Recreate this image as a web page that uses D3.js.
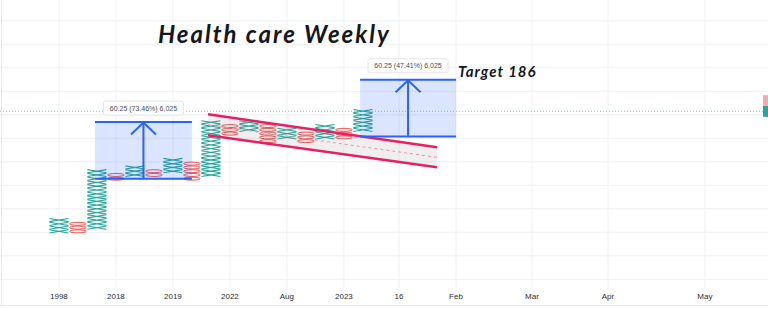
<!DOCTYPE html>
<html>
<head>
<meta charset="utf-8">
<script src="https://cdn.jsdelivr.net/npm/d3@7"></script>
<style>
body { margin: 0; background: #fff; }
svg { display: block; }
</style>
</head>
<body>
<svg id="chart"></svg>
<script>
// point & figure columns (price of lowest box, price of top of column)
const colTypes = ["X", "O", "X", "O", "X", "O", "X", "O", "X", "O", "X", "O", "X", "O", "X", "O", "X"];
const colLows  = [24, 24, 28, 80, 84, 84, 88, 80, 84, 128, 132, 120, 124, 120, 124, 124, 132];
const colHighs = [40, 36, 92, 88, 96, 92, 104, 100, 144, 140, 144, 140, 136, 132, 140, 136, 156];
const boxSize = 4;

// time axis
const timeTicks = [0, 3, 6, 9, 12, 15, 17.9, 20.9, 24.9, 28.9, 34];
const timeLabels = ["1998", "2018", "2019", "2022", "Aug", "2023", "16", "Feb", "Mar", "Apr", "May"];
const priceTicks = [-25, 0, 25, 50, 75, 100, 125, 150, 175, 200, 225, 250];

// price range measurements
const measureFrom = [1.9, 15.85];
const measureTo = [7.0, 20.9];
const measureLow = [82, 127];
const measureHigh = [142.25, 187.25];
const measureLabels = ["60.25 (73.46%) 6,025", "60.25 (47.41%) 6,025"];

// descending channel
const channelIdx = [7.85, 19.9];
const channelUpper = [150.5, 115.4];
const channelLower = [128.2, 94.1];

const lastPrice = 153.7;
const prevLabelPrice = 165;

const width = 768, height = 309;
const svg = d3.select('#chart').attr('width', width).attr('height', height);

const x = d3.scaleLinear().domain([-3.1, 37.32]).range([0, width]);
const y = d3.scaleLinear().domain([75, 150]).range([185.3, 114.8]);
const boxH = y(0) - y(boxSize);

// grid
svg.append('g').selectAll('line.h')
    .data(priceTicks)
    .enter().append('line')
    .attr('x1', 0).attr('x2', width)
    .attr('y1', d => y(d)).attr('y2', d => y(d))
    .attr('stroke', '#eef0f4').attr('stroke-width', 1);

svg.append('g').selectAll('line.v')
    .data(timeTicks)
    .enter().append('line')
    .attr('x1', d => x(d)).attr('x2', d => x(d))
    .attr('y1', 0).attr('y2', 288)
    .attr('stroke', '#eef0f4').attr('stroke-width', 1);

// frame
svg.append('line').attr('x1', 1.5).attr('x2', 1.5).attr('y1', 0).attr('y2', 305)
    .attr('stroke', '#e6e9ef');
svg.append('line').attr('x1', 0).attr('x2', width).attr('y1', 305.5).attr('y2', 305.5)
    .attr('stroke', '#e6e9ef');

// time labels
svg.append('g').selectAll('text')
    .data(timeTicks)
    .enter().append('text')
    .attr('x', d => x(d))
    .attr('y', 299)
    .attr('text-anchor', 'middle')
    .attr('font-family', 'Liberation Sans, Arial, sans-serif')
    .attr('font-size', 8)
    .attr('fill', '#2a2e39')
    .text((d, i) => timeLabels[i]);

// last price line
svg.append('line')
    .attr('x1', 0).attr('x2', width)
    .attr('y1', y(lastPrice)).attr('y2', y(lastPrice))
    .attr('stroke', '#26a69a').attr('stroke-opacity', 0.55)
    .attr('stroke-dasharray', '1,2');

// boxes
const boxes = [];
colTypes.forEach(function(t, i) {
    for (let p = colLows[i]; p < colHighs[i]; p += boxSize) {
        boxes.push({col: i, type: t, price: p});
    }
});

const marks = svg.append('g');
marks.selectAll('path.x')
    .data(boxes.filter(d => d.type === 'X'))
    .enter().append('path')
    .attr('d', function(d) {
        const cx = x(d.col), y0 = y(d.price) - 0.3, y1 = y(d.price + boxSize) + 0.3;
        return 'M' + (cx - 9.5) + ',' + y1 + 'L' + (cx + 9.5) + ',' + y0 +
            'M' + (cx - 9.5) + ',' + y0 + 'L' + (cx + 9.5) + ',' + y1;
    })
    .attr('fill', 'none')
    .attr('stroke', '#26a69a')
    .attr('stroke-width', 1.1);

marks.selectAll('ellipse')
    .data(boxes.filter(d => d.type === 'O'))
    .enter().append('ellipse')
    .attr('cx', d => x(d.col))
    .attr('cy', d => y(d.price + boxSize / 2))
    .attr('rx', 8.3)
    .attr('ry', boxH / 2 - 0.4)
    .attr('fill', 'none')
    .attr('stroke', '#ef5350')
    .attr('stroke-width', 1);

// channel
const chan = svg.append('g');
chan.append('path')
    .attr('d', 'M' + x(channelIdx[0]) + ',' + y(channelUpper[0]) +
        'L' + x(channelIdx[1]) + ',' + y(channelUpper[1]) +
        'L' + x(channelIdx[1]) + ',' + y(channelLower[1]) +
        'L' + x(channelIdx[0]) + ',' + y(channelLower[0]) + 'Z')
    .attr('fill', 'rgba(120,123,134,0.12)');
chan.append('line')
    .attr('x1', x(channelIdx[0])).attr('x2', x(channelIdx[1]))
    .attr('y1', y((channelUpper[0] + channelLower[0]) / 2))
    .attr('y2', y((channelUpper[1] + channelLower[1]) / 2))
    .attr('stroke', '#f48fb1').attr('stroke-width', 1).attr('stroke-dasharray', '3,3');
[channelUpper, channelLower].forEach(function(line) {
    chan.append('line')
        .attr('x1', x(channelIdx[0])).attr('x2', x(channelIdx[1]))
        .attr('y1', y(line[0])).attr('y2', y(line[1]))
        .attr('stroke', '#e91e63').attr('stroke-width', 2.5);
});

// measurements
measureFrom.forEach(function(f, i) {
    const g = svg.append('g');
    const x0 = x(f), x1 = x(measureTo[i]);
    const yl = y(measureLow[i]), yh = y(measureHigh[i]);
    const xm = (x0 + x1) / 2;
    g.append('rect')
        .attr('x', x0).attr('y', yh)
        .attr('width', x1 - x0).attr('height', yl - yh)
        .attr('fill', 'rgba(41,98,255,0.17)');
    [yl, yh].forEach(function(yy) {
        g.append('line').attr('x1', x0).attr('x2', x1).attr('y1', yy).attr('y2', yy)
            .attr('stroke', '#2962ff').attr('stroke-width', 2);
    });
    g.append('line').attr('x1', xm).attr('x2', xm).attr('y1', yl).attr('y2', yh)
        .attr('stroke', '#2962ff').attr('stroke-width', 2);
    g.append('path')
        .attr('d', 'M' + (xm - 12.5) + ',' + (yh + 12.5) + 'L' + xm + ',' + (yh + 0.5) + 'L' + (xm + 12.5) + ',' + (yh + 12.5))
        .attr('fill', 'none').attr('stroke', '#2962ff').attr('stroke-width', 2);
    g.append('rect')
        .attr('x', xm - 40).attr('y', yh - 21)
        .attr('width', 80).attr('height', 14).attr('rx', 2)
        .attr('fill', '#fff').attr('stroke', '#e3e5ea');
    g.append('text')
        .attr('x', xm).attr('y', yh - 11.5)
        .attr('text-anchor', 'middle')
        .attr('font-family', 'Liberation Sans, Arial, sans-serif')
        .attr('font-size', 7)
        .attr('fill', '#4a4e58')
        .text(measureLabels[i]);
});

// price scale labels, cut off at right edge
svg.append('rect').attr('x', 763).attr('y', y(prevLabelPrice) - 5.5)
    .attr('width', 6).attr('height', 10.5).attr('fill', '#f7a8ae');
svg.append('rect').attr('x', 763).attr('y', y(lastPrice) - 5.5)
    .attr('width', 6).attr('height', 11).attr('fill', '#26a69a');

// annotations
svg.append('text')
    .attr('x', 158).attr('y', 43)
    .attr('font-family', 'Lato, sans-serif')
    .attr('font-style', 'italic').attr('font-weight', 'bold')
    .attr('font-size', 24)
    .attr('letter-spacing', 2)
    .attr('fill', '#131722')
    .text('Health care Weekly');

svg.append('text')
    .attr('x', 458).attr('y', 77)
    .attr('font-family', 'Lato, sans-serif')
    .attr('font-style', 'italic').attr('font-weight', 'bold')
    .attr('font-size', 15)
    .attr('letter-spacing', 1)
    .attr('fill', '#131722')
    .text('Target 186');
</script>
</body>
</html>
